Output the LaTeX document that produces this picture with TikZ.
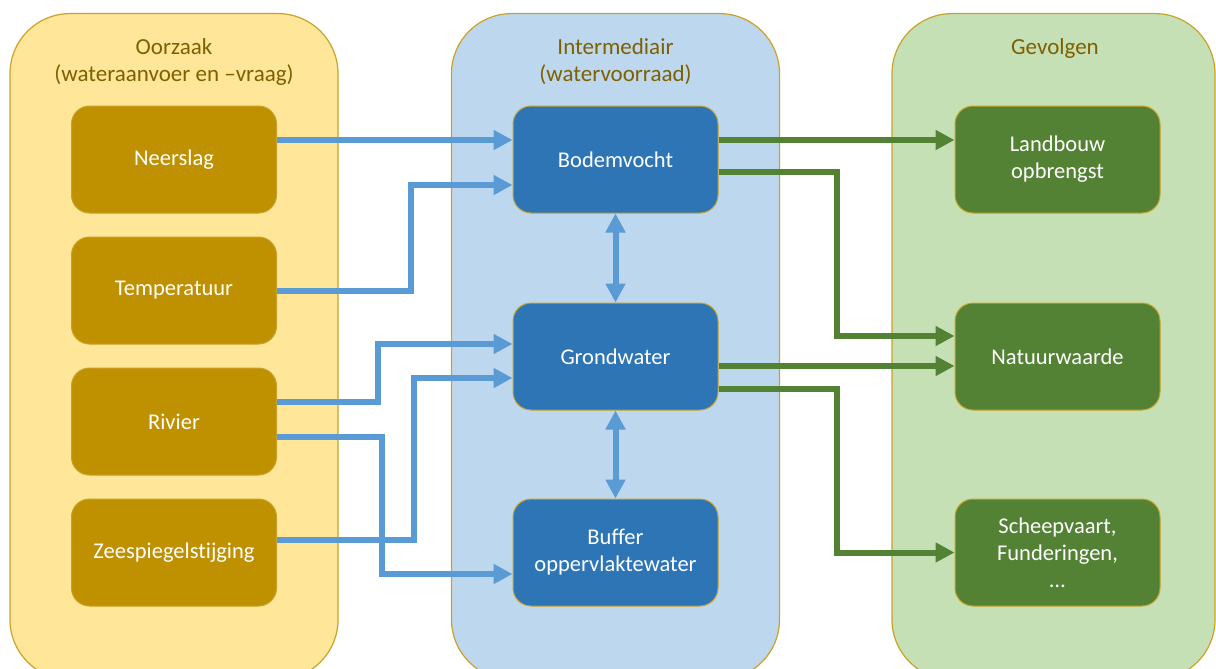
\documentclass[tikz,border=0pt]{standalone}
\usepackage{fontspec}
\setmainfont{Carlito}[Ligatures={NoCommon}]
\usetikzlibrary{arrows.meta}
\definecolor{ypanel}{HTML}{FFE699}
\definecolor{bpanel}{HTML}{BDD7EE}
\definecolor{gpanel}{HTML}{C5E0B4}
\definecolor{gold}{HTML}{BF9000}
\definecolor{goldline}{HTML}{C9A227}
\definecolor{titlec}{HTML}{7F6000}
\definecolor{bbox}{HTML}{2E75B6}
\definecolor{gbox}{HTML}{548235}
\definecolor{barr}{HTML}{5B9BD5}
\definecolor{garr}{HTML}{548235}
\tikzset{
  panel/.style={draw=goldline, line width=1.2pt, rounded corners=60pt, minimum width=328pt, minimum height=666pt, anchor=north, inner sep=0pt},
  boxbase/.style={draw=goldline, line width=1pt, rounded corners=18pt, minimum width=205pt, minimum height=107pt, text=white, align=center, font=\fontsize{22.5}{27}\selectfont, inner sep=0pt},
  ybox/.style={boxbase, fill=gold},
  bbx/.style={boxbase, fill=bbox},
  gbx/.style={boxbase, fill=gbox},
  ptitle/.style={text=titlec, align=center, font=\fontsize{23}{27}\selectfont, anchor=north, inner sep=0pt},
  barrow/.style={draw=barr, line width=6pt, -{Triangle[length=19pt,width=19pt]}},
  bdarrow/.style={draw=barr, line width=6pt, {Triangle[length=19pt,width=19pt]}-{Triangle[length=19pt,width=19pt]}},
  garrow/.style={draw=garr, line width=6pt, -{Triangle[length=19pt,width=19pt]}},
}
\begin{document}
\begin{tikzpicture}[x=1pt,y=-1pt]
\useasboundingbox (0,0) rectangle (1216,669);
\clip (0,0) rectangle (1216,669);
\fill[white] (0,0) rectangle (1216,669);
% panels
\node[panel, fill=ypanel] (py) at (174,13) {};
\node[panel, fill=bpanel] (pb) at (615.5,13) {};
\node[panel, fill=gpanel, minimum width=323pt] (pg) at (1053.5,13) {};
\node[ptitle] (ty) at (174,38.5) {Oorzaak\\(wateraanvoer en –vraag)};
\node[ptitle] (tb) at (615.5,38.5) {Intermediair\\(watervoorraad)};
\node[ptitle] (tg) at (1055,38.5) {Gevolgen};
% cause boxes
\node[ybox] (neer) at (174,159.5) {Neerslag};
\node[ybox] (temp) at (174,290.5) {Temperatuur};
\node[ybox] (riv) at (174,421.5) {Rivier};
\node[ybox] (zee) at (174,552.5) {Zeespiegelstijging};
% intermediate
\node[bbx] (bodem) at (615.5,159.5) {Bodemvocht};
\node[bbx] (grond) at (615.5,356.5) {Grondwater};
\node[bbx] (buf) at (615.5,552.5) {Buffer\\oppervlaktewater};
% consequences
\node[gbx] (land) at (1057.5,159.5) {Landbouw\\opbrengst};
\node[gbx] (nat) at (1057.5,356.5) {Natuurwaarde};
\node[gbx] (sch) at (1057.5,552.5) {Scheepvaart,\\Funderingen,\\…};
% helper coordinates
\coordinate (b2) at ([yshift=-25.5pt]bodem.west);
\coordinate (b3) at ([yshift=12.5pt]grond.west);
\coordinate (b4) at ([yshift=-21.5pt]buf.west);
\coordinate (b5) at ([yshift=-21.5pt]grond.west);
\coordinate (r3) at ([yshift=19.5pt]riv.east);
\coordinate (r4) at ([yshift=-15.5pt]riv.east);
\coordinate (z5) at ([yshift=12.5pt]zee.east);
\coordinate (c2) at (411,0);
\coordinate (c3) at (378,0);
\coordinate (c4) at (382,0);
\coordinate (c5) at (414,0);
\coordinate (g2) at (837,0);
\coordinate (n2) at ([yshift=20.5pt]nat.west);
\coordinate (o2) at ([yshift=-12.5pt]bodem.east);
\coordinate (o4) at ([yshift=-32.5pt]grond.east);
% blue arrows
\draw[barrow] ([yshift=19.5pt]neer.east) -- ([yshift=19.5pt]bodem.west);
\draw[barrow] (temp.east) -| (c2 |- b2) -- (b2);
\draw[barrow] (r3) -| (c3 |- b3) -- (b3);
\draw[barrow] (r4) -| (c4 |- b4) -- (b4);
\draw[barrow] (z5) -| (c5 |- b5) -- (b5);
\draw[bdarrow] (bodem.south) -- (grond.north);
\draw[bdarrow] (grond.south) -- (buf.north);
% green arrows
\draw[garrow] ([yshift=19.5pt]bodem.east) -- ([yshift=19.5pt]land.west);
\draw[garrow] (o2) -| (g2 |- n2) -- (n2);
\draw[garrow] ([yshift=-9.5pt]grond.east) -- ([yshift=-9.5pt]nat.west);
\draw[garrow] (o4) -| (g2 |- sch.west) -- (sch.west);
\end{tikzpicture}
\end{document}
